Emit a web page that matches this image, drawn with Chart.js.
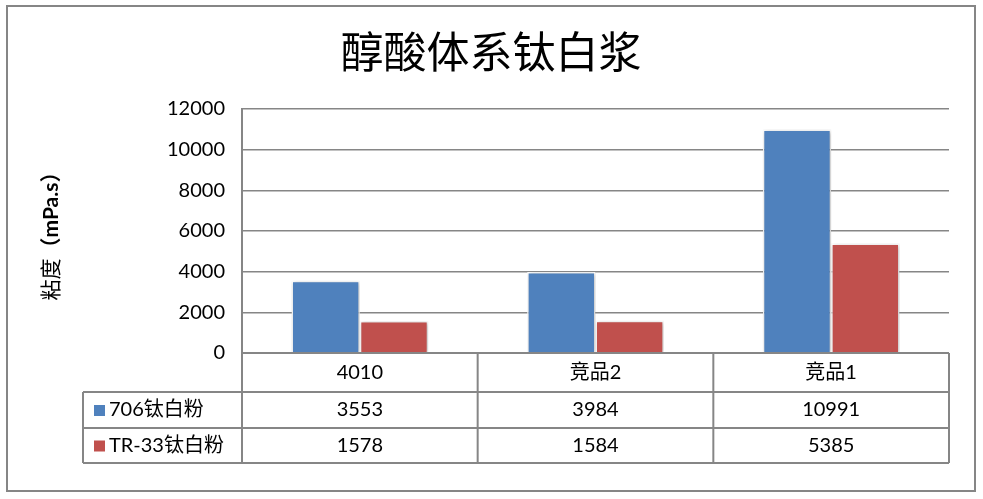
<!DOCTYPE html>
<html>
<head>
<meta charset="utf-8">
<script src="https://cdn.jsdelivr.net/npm/chart.js@4"></script>
<style>
  html, body { margin: 0; padding: 0; background: #ffffff; }
  #wrap { width: 983px; height: 499px; position: relative; }
</style>
</head>
<body>
<div id="wrap"><canvas id="viscosityChart"></canvas></div>
<script>
// chart data
const categories = ['4010', '竞品2', '竞品1'];
const series706 = [3553, 3984, 10991];
const seriesTR33 = [1578, 1584, 5385];
const seriesNames = ['706钛白粉', 'TR-33钛白粉'];
const seriesColors = ['#4F81BD', '#C0504D'];
const yTicks = [0, 2000, 4000, 6000, 8000, 10000, 12000];
const chartTitle = '醇酸体系钛白浆';

const lineGrey = '#868686';
const textFont = '"Lato", "Noto Sans CJK SC", sans-serif';

// outer frame and title
const framePlugin = {
    id: 'frame',
    beforeDraw(chart) {
        const ctx = chart.ctx;
        ctx.save();
        ctx.fillStyle = '#ffffff';
        ctx.fillRect(0, 0, chart.width, chart.height);
        ctx.strokeStyle = lineGrey;
        ctx.lineWidth = 2;
        ctx.strokeRect(7, 6, 968, 485);
        ctx.fillStyle = '#000000';
        ctx.font = '43px "Noto Sans CJK SC", sans-serif';
        ctx.textAlign = 'center';
        ctx.textBaseline = 'middle';
        ctx.fillText(chartTitle, 491, 52);
        ctx.restore();
    }
};

// soft shadow under the bars
const shadowPlugin = {
    id: 'barShadow',
    beforeDatasetsDraw(chart) {
        const ctx = chart.ctx;
        ctx.save();
        ctx.shadowColor = 'rgba(0,0,0,0.28)';
        ctx.shadowBlur = 4;
        ctx.shadowOffsetX = 1;
        ctx.shadowOffsetY = 1;
    },
    afterDatasetsDraw(chart) {
        chart.ctx.restore();
    }
};

// y axis title: "粘度" plain, "（mPa.s）" bold
const yTitlePlugin = {
    id: 'yTitle',
    afterDraw(chart) {
        const ctx = chart.ctx;
        const area = chart.chartArea;
        const cy = (area.top + area.bottom) / 2;
        const partA = '粘度';
        const partB = '（mPa.s）';
        ctx.save();
        ctx.translate(51, cy);
        ctx.rotate(-Math.PI / 2);
        ctx.fillStyle = '#000000';
        ctx.textBaseline = 'middle';
        ctx.font = '21px ' + textFont;
        const wA = ctx.measureText(partA).width;
        ctx.font = 'bold 21px ' + textFont;
        const wB = ctx.measureText(partB).width;
        let x = -(wA + wB) / 2;
        ctx.font = '21px ' + textFont;
        ctx.textAlign = 'left';
        ctx.fillText(partA, x, 0);
        ctx.font = 'bold 21px ' + textFont;
        ctx.fillText(partB, x + wA, 0);
        ctx.restore();
    }
};

// data table under the plot
const dataTablePlugin = {
    id: 'dataTable',
    afterDraw(chart) {
        const ctx = chart.ctx;
        const xs = chart.scales.x;
        const area = chart.chartArea;
        const legendLeft = 83;
        const rowY = [area.bottom, area.bottom + 39, area.bottom + 75, area.bottom + 110];
        const n = categories.length;
        const step = (xs.right - xs.left) / n;
        const colX = [];
        for (let i = 0; i <= n; i++) colX.push(xs.left + step * i);

        ctx.save();
        ctx.strokeStyle = lineGrey;
        ctx.lineWidth = 2;
        ctx.beginPath();
        // horizontal lines
        ctx.moveTo(area.left, rowY[0]); ctx.lineTo(area.right, rowY[0]);
        for (let r = 1; r < rowY.length; r++) {
            ctx.moveTo(legendLeft, rowY[r]); ctx.lineTo(area.right, rowY[r]);
        }
        // vertical lines
        ctx.moveTo(legendLeft, rowY[1]); ctx.lineTo(legendLeft, rowY[3]);
        colX.forEach(x => { ctx.moveTo(x, rowY[0]); ctx.lineTo(x, rowY[3]); });
        ctx.stroke();

        ctx.fillStyle = '#000000';
        ctx.textBaseline = 'middle';
        ctx.textAlign = 'center';
        ctx.font = '20px ' + textFont;
        categories.forEach((c, i) => {
            ctx.fillText(c, xs.getPixelForValue(i), (rowY[0] + rowY[1]) / 2);
        });
        const rows = [series706, seriesTR33];
        rows.forEach((vals, r) => {
            const cy = (rowY[r + 1] + rowY[r + 2]) / 2;
            ctx.textAlign = 'center';
            ctx.fillStyle = '#000000';
            vals.forEach((v, i) => ctx.fillText(String(v), xs.getPixelForValue(i), cy));
            ctx.fillStyle = seriesColors[r];
            ctx.fillRect(94, cy - 5, 11, 11);
            ctx.fillStyle = '#000000';
            ctx.textAlign = 'left';
            ctx.fillText(seriesNames[r], 109, cy);
        });
        ctx.restore();
    }
};

const ctx = document.getElementById('viscosityChart');
new Chart(ctx, {
    type: 'bar',
    data: {
        labels: categories,
        datasets: [
            {
                label: seriesNames[0],
                data: series706,
                backgroundColor: seriesColors[0],
                borderColor: '#ffffff',
                borderWidth: 1.5
            },
            {
                label: seriesNames[1],
                data: seriesTR33,
                backgroundColor: seriesColors[1],
                borderColor: '#ffffff',
                borderWidth: 1.5
            }
        ]
    },
    options: {
        responsive: true,
        maintainAspectRatio: false,
        animation: false,
        categoryPercentage: 0.58,
        barPercentage: 1.0,
        layout: { padding: { left: 0, right: 34, bottom: 146, top: 109 } },
        plugins: {
            legend: { display: false },
            tooltip: { enabled: false },
            title: { display: false }
        },
        scales: {
            x: {
                display: false
            },
            y: {
                min: 0,
                max: 12000,
                afterFit(scale) { scale.width = 242; },
                afterBuildTicks(scale) { scale.ticks = yTicks.map(v => ({ value: v })); },
                ticks: {
                    color: '#000000',
                    padding: 17,
                    font: { family: textFont, size: 20 },
                    callback: v => String(v)
                },
                grid: { color: lineGrey, lineWidth: 1.5, drawTicks: false },
                border: { color: lineGrey, width: 2 }
            }
        }
    },
    plugins: [framePlugin, shadowPlugin, yTitlePlugin, dataTablePlugin]
});
</script>
</body>
</html>
